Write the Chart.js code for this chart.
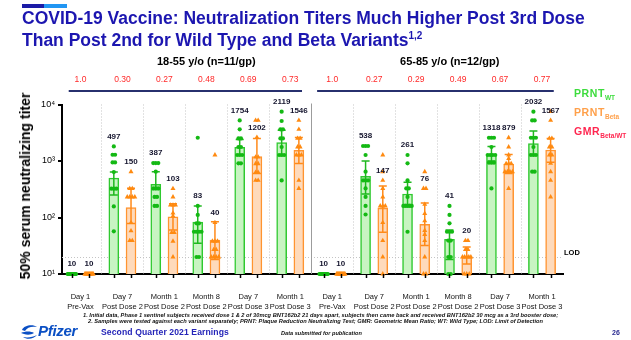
<!DOCTYPE html>
<html>
<head>
<meta charset="utf-8">
<script src="https://cdn.jsdelivr.net/npm/chart.js@4/dist/chart.umd.min.js"></script>
<style>
  html, body { margin: 0; padding: 0; background: #fff; }
  #wrap { position: relative; width: 631px; height: 340px; overflow: hidden;
          font-family: "Liberation Sans", Arial, sans-serif; }
  #c { position: absolute; left: 0; top: 0; }
  .t { position: absolute; white-space: nowrap; }
  .strip1 { position: absolute; left: 22px; top: 4px; width: 22px; height: 4px; background: #1b1ba6; }
  .strip2 { position: absolute; left: 44px; top: 4px; width: 23px; height: 4px; background: #2196f3; }
  .title { left: 22px; top: 7px; font-weight: bold; font-size: 17.5px; line-height: 22px; color: #1c16b0; }
  .title .sup { font-size: 10px; position: relative; top: -7px; }
  .ytitle { left: 25px; top: 186px; font-weight: bold; font-size: 14px; color: #000;
            transform: translate(-50%, -50%) rotate(-90deg); }
  .leg { left: 574px; font-weight: bold; font-size: 10.5px; line-height: 12px; letter-spacing: 0.6px; }
  .leg sub { font-size: 6.5px; letter-spacing: 0; vertical-align: -3px; }
  .foot { font-style: italic; font-weight: bold; font-size: 5.7px; color: #111; line-height: 7px; }
  .earn { left: 101px; top: 327px; font-weight: bold; font-size: 8.6px; color: #2424b8; letter-spacing: 0.1px; }
  .pub { left: 281px; top: 330px; font-style: italic; font-size: 5.6px; color: #111; font-weight: bold; }
  .page { left: 612px; top: 329px; font-size: 7px; color: #2a2a90; font-weight: bold; }
  .pfz { left: 38px; top: 322px; font-style: italic; font-weight: bold; font-size: 15px; color: #0a4fc4; letter-spacing: -0.3px; }
</style>
</head>
<body>
<div id="wrap">
  <canvas id="c" width="631" height="340"></canvas>
  <div class="strip1"></div><div class="strip2"></div>
  <div class="t title">COVID-19 Vaccine: Neutralization Titers Much Higher Post 3rd Dose<br>Than Post 2nd for Wild Type and Beta Variants<span class="sup">1,2</span></div>
  <div class="t ytitle">50% serum neutralizing titer</div>
  <div class="t leg" style="top:87px;color:#3ddc3d">PRNT<sub>WT</sub></div>
  <div class="t leg" style="top:106px;color:#ffa04a">PRNT<sub>Beta</sub></div>
  <div class="t leg" style="top:125px;color:#ff2750">GMR<sub>Beta/WT</sub></div>
  <div class="t foot" style="left:83px;top:312px">1. Initial data, Phase 1 sentinel subjects received dose 1 &amp; 2 of 30mcg BNT162b2 21 days apart, subjects then came back and received BNT162b2 30 mcg as a 3rd booster dose;</div>
  <div class="t foot" style="left:88px;top:318px">2. Samples were tested against each variant separately; PRNT: Plaque Reduction Neutralizing Test; GMR: Geometric Mean Ratio; WT: Wild Type; LOD: Limit of Detection</div>
  <svg style="position:absolute;left:19px;top:324px" width="20" height="16" viewBox="0 0 20 16">
    <path d="M3 6 C5 1, 14 0, 18 3 C13 2, 8 3, 6 7 Z" fill="#0a4fc4"/>
    <path d="M2 9 C6 7, 12 7, 15 9 C12 11, 8 11, 5 10 Z" fill="#0a4fc4"/>
    <path d="M4 13 C8 16, 15 15, 18 11 C14 13, 9 14, 4 13 Z" fill="#0a4fc4"/>
  </svg>
  <div class="t pfz">Pfizer</div>
  <div class="t earn">Second Quarter 2021 Earnings</div>
  <div class="t pub">Data submitted for publication</div>
  <div class="t page">26</div>
</div>
<script>
// Time points for both age cohorts (first six: 18-55 y/o, last six: 65-85 y/o)
const xLabels = [
  ['Day 1', 'Pre-Vax'], ['Day 7', 'Post Dose 2'], ['Month 1', 'Post Dose 2'],
  ['Month 8', 'Post Dose 2'], ['Day 7', 'Post Dose 3'], ['Month 1', 'Post Dose 3'],
  ['Day 1', 'Pre-Vax'], ['Day 7', 'Post Dose 2'], ['Month 1', 'Post Dose 2'],
  ['Month 8', 'Post Dose 2'], ['Day 7', 'Post Dose 3'], ['Month 1', 'Post Dose 3']
];
const panelTitles = ['18-55 y/o (n=11/gp)', '65-85 y/o (n=12/gp)'];

// Geometric mean titers (PRNT50)
const gmtWT   = [10, 497, 387, 83, 1754, 2119, 10, 538, 261, 41, 1318, 2032];
const gmtBeta = [10, 150, 103, 40, 1202, 1546, 10, 147, 76, 20, 879, 1567];

// Beta / wild-type geometric mean ratio
const gmrBetaWT = ['1.0', '0.30', '0.27', '0.48', '0.69', '0.73', '1.0', '0.27', '0.29', '0.49', '0.67', '0.77'];

// 95% confidence intervals [lower, upper]
const ciWT = [null, [250, 640], [314, 646], [35, 160], [1280, 2410], [1250, 3500],
              null, [260, 1000], [170, 420], [18, 60], [1000, 1800], [1300, 3400]];
const ciBeta = [null, [78, 330], [60, 175], [18, 84], [600, 2500], [900, 2600],
                null, [55, 360], [32, 180], [15, 30], [600, 1300], [950, 2500]];

// Individual subject titers, wild type
const ptsWT = [
  [10, 10, 10, 10, 10, 10, 10, 10, 10, 10, 10],
  [1811, 1290, 1290, 944, 944, 638, 324, 324, 324, 157, 57],
  [920, 920, 920, 646, 327, 327, 327, 231, 231, 160, 160],
  [2580, 160, 111, 79, 79, 56, 56, 56, 56, 20, 20],
  [5236, 3630, 2512, 2512, 1770, 1770, 1277, 1277, 1277, 908, 908],
  [7465, 5100, 3630, 3630, 2512, 2512, 1770, 1277, 1277, 1277, 454],
  [10, 10, 10, 10, 10, 10, 10, 10, 10, 10, 10, 10],
  [1841, 1841, 1841, 1277, 646, 454, 454, 454, 327, 231, 160, 113],
  [1277, 908, 454, 327, 327, 231, 160, 160, 160, 160, 160, 56],
  [160, 111, 79, 56, 56, 56, 39, 39, 20, 20, 10, 10],
  [2580, 2580, 2580, 1770, 1277, 1277, 1277, 1277, 933, 933, 933, 327],
  [7465, 5236, 5236, 2580, 2580, 2580, 1770, 1277, 1277, 1277, 646, 646]
];

// Individual subject titers, Beta variant
const ptsBeta = [
  [10, 10, 10, 10, 10, 10, 10, 10, 10, 10, 10],
  [646, 324, 324, 231, 231, 231, 231, 81, 58, 39, 39],
  [324, 231, 166, 166, 166, 120, 106, 54, 54, 38, 20],
  [1276, 81, 38, 38, 38, 27, 27, 20, 20, 20, 20],
  [5236, 5236, 2618, 1175, 1175, 896, 896, 628, 628, 454, 454],
  [5236, 3630, 2512, 2512, 1770, 1770, 1277, 1277, 1277, 454, 327],
  [10, 10, 10, 10, 10, 10, 10, 10, 10, 10, 10, 10],
  [1277, 646, 454, 327, 231, 160, 160, 160, 81, 39, 20, 10],
  [646, 327, 327, 171, 117, 87, 59, 50, 39, 20, 10, 10],
  [39, 39, 27, 27, 20, 20, 20, 20, 20, 10, 10, 10],
  [2580, 1770, 1277, 1100, 900, 900, 900, 646, 646, 646, 646, 327],
  [7465, 5236, 2512, 2512, 1770, 1770, 1277, 1277, 908, 646, 454, 231]
];

const yTicks = [10, 100, 1000, 10000];
const yTickText = ['10\u00B9', '10\u00B2', '10\u00B3', '10\u2074'];
const LOD = 20;

const FONT = '"Liberation Sans", Arial, sans-serif';
const PER_PANEL = xLabels.length / 2;
const OFF = 0.205;               // bar offset from the time-point centre, in category units
const COL = {
  wtLine: '#2fc92f', wtFill: '#c8f4c2', wtPt: '#14b914', wtErr: '#1fb81f',
  btLine: '#ff9430', btFill: '#fedabb', btPt: '#ff8a10', btErr: '#ff8a1a'
};

function barData(vals, sign) {
  return vals.map((v, i) => ({ x: i + sign * OFF, y: v }));
}
// identical titers are spread sideways so every subject stays visible
function pointData(groups, sign) {
  const out = [];
  groups.forEach((g, i) => {
    const counts = {}, seen = {};
    g.forEach(v => { counts[v] = (counts[v] || 0) + 1; });
    g.forEach(v => {
      const n = counts[v];
      const k = seen[v] = (seen[v] || 0) + 1;
      const step = n > 1 ? Math.min(0.06, 0.2 / (n - 1)) : 0;
      out.push({ x: i + sign * OFF + (k - 1 - (n - 1) / 2) * step, y: v });
    });
  });
  return out;
}
// value labels sit just above the highest subject that is not a far outlier
function labelAnchor(pts, gmt, spread) {
  return Math.max(...pts.filter(v => v <= gmt * spread), gmt);
}

const deco = {
  id: 'deco',
  beforeDatasetsDraw(chart) {
    const { ctx, chartArea: a, scales: { x, y } } = chart;
    const seg = (x1, y1, x2, y2) => { ctx.beginPath(); ctx.moveTo(x1, y1); ctx.lineTo(x2, y2); ctx.stroke(); };
    ctx.save();
    ctx.strokeStyle = '#c4c4c4'; ctx.lineWidth = 1; ctx.setLineDash([1, 2]);
    for (let i = 0; i < xLabels.length - 1; i++) {
      if (i === PER_PANEL - 1) continue;
      const px = Math.round(x.getPixelForValue(i + 0.5)) + 0.5;
      seg(px, a.top, px, a.bottom);
    }
    const ly = Math.round(y.getPixelForValue(LOD)) + 0.5;
    seg(a.left, ly, a.right, ly);
    ctx.setLineDash([]);
    ctx.strokeStyle = '#9c9c9c';
    const sx = Math.round(x.getPixelForValue(PER_PANEL - 0.5)) + 0.5;
    seg(sx, a.top - 1, sx, a.bottom);
    ctx.restore();
  },
  afterDatasetDraw(chart, args) {
    if (args.index > 1) return;
    const { ctx, scales: { x, y } } = chart;
    const ci = args.index === 0 ? ciWT : ciBeta;
    const sign = args.index === 0 ? -1 : 1;
    ctx.save();
    ctx.strokeStyle = args.index === 0 ? COL.wtErr : COL.btErr;
    ctx.lineWidth = 1.5;
    ci.forEach((r, i) => {
      if (!r) return;
      const px = x.getPixelForValue(i + sign * OFF);
      const lo = y.getPixelForValue(r[0]), hi = y.getPixelForValue(r[1]);
      ctx.beginPath();
      ctx.moveTo(px, lo); ctx.lineTo(px, hi);
      ctx.moveTo(px - 4, lo); ctx.lineTo(px + 4, lo);
      ctx.moveTo(px - 4, hi); ctx.lineTo(px + 4, hi);
      ctx.stroke();
    });
    ctx.restore();
  },
  afterDatasetsDraw(chart) {
    const { ctx, chartArea: a, scales: { x, y } } = chart;
    ctx.save();
    // tick marks under each bar
    ctx.strokeStyle = '#000'; ctx.lineWidth = 1.5;
    for (let i = 0; i < xLabels.length; i++) {
      [-1, 1].forEach(s => {
        const px = Math.round(x.getPixelForValue(i + s * OFF)) + 0.5;
        ctx.beginPath(); ctx.moveTo(px, a.bottom); ctx.lineTo(px, a.bottom + 4); ctx.stroke();
      });
    }
    // geometric mean values above each group
    ctx.font = 'bold 8px ' + FONT; ctx.fillStyle = '#15152e';
    ctx.textAlign = 'center'; ctx.textBaseline = 'middle';
    for (let i = 0; i < xLabels.length; i++) {
      const tw = labelAnchor(ptsWT[i], gmtWT[i], 5);
      const tb = labelAnchor(ptsBeta[i], gmtBeta[i], 4.35);
      ctx.fillText(String(gmtWT[i]), x.getPixelForValue(i - OFF), y.getPixelForValue(tw) - 10);
      ctx.fillText(String(gmtBeta[i]), x.getPixelForValue(i + OFF), y.getPixelForValue(tb) - 10);
    }
    // limit of detection
    ctx.textAlign = 'left'; ctx.font = 'bold 7.5px ' + FONT; ctx.fillStyle = '#000';
    ctx.fillText('LOD', a.right + 1, y.getPixelForValue(LOD) - 4);
    // cohort headers: title, GMR row, rule
    ctx.textAlign = 'center';
    ctx.font = 'bold 11px ' + FONT; ctx.fillStyle = '#000';
    ctx.fillText(panelTitles[0], x.getPixelForValue(3.0), 62);
    ctx.fillText(panelTitles[1], x.getPixelForValue(8.8), 62);
    ctx.font = '8.5px ' + FONT; ctx.fillStyle = '#ff2a2a';
    gmrBetaWT.forEach((g, i) => ctx.fillText(g, x.getPixelForValue(i), 80));
    ctx.strokeStyle = '#27306e'; ctx.lineWidth = 2;
    [[-0.28, PER_PANEL - 0.72], [PER_PANEL - 0.36, 2 * PER_PANEL - 0.72]].forEach(([s, e]) => {
      ctx.beginPath(); ctx.moveTo(x.getPixelForValue(s), 91); ctx.lineTo(x.getPixelForValue(e), 91); ctx.stroke();
    });
    ctx.restore();
  }
};

new Chart(document.getElementById('c'), {
  type: 'bar',
  data: {
    datasets: [
      { label: 'PRNT WT', data: barData(gmtWT, -1), backgroundColor: COL.wtFill, borderColor: COL.wtLine,
        borderWidth: 1.5, barThickness: 10, grouped: false, order: 3 },
      { label: 'PRNT Beta', data: barData(gmtBeta, 1), backgroundColor: COL.btFill, borderColor: COL.btLine,
        borderWidth: 1.5, barThickness: 10, grouped: false, order: 3 },
      { type: 'scatter', label: 'WT subjects', data: pointData(ptsWT, -1), pointStyle: 'circle', pointRadius: 2.1,
        backgroundColor: COL.wtPt, pointBackgroundColor: COL.wtPt, pointBorderWidth: 0, showLine: false, clip: false, order: 1 },
      { type: 'scatter', label: 'Beta subjects', data: pointData(ptsBeta, 1), pointStyle: 'triangle', pointRadius: 2.9,
        backgroundColor: COL.btPt, pointBackgroundColor: COL.btPt, pointBorderWidth: 0, showLine: false, clip: false, order: 1 }
    ]
  },
  options: {
    responsive: false, animation: false, devicePixelRatio: 1, events: [],
    layout: { padding: { top: 104.5, right: 68, bottom: 0, left: 0 } },
    plugins: { legend: { display: false }, tooltip: { enabled: false } },
    scales: {
      x: {
        type: 'linear', min: -0.44, max: 11.5, offset: false,
        afterBuildTicks: s => { s.ticks = xLabels.map((_, i) => ({ value: i })); },
        afterFit: s => { s.height = 66; },
        ticks: { callback: v => xLabels[v], autoSkip: false, maxRotation: 0, minRotation: 0,
                 padding: 17, color: '#111', font: { family: FONT, size: 7.5, lineHeight: 1.45 } },
        grid: { display: false, drawTicks: false, offset: false },
        border: { display: true, color: '#000', width: 2 }
      },
      y: {
        type: 'logarithmic', min: 10, max: 10000,
        afterBuildTicks: s => { s.ticks = yTicks.map(v => ({ value: v, major: true })); },
        afterFit: s => { s.width = 62; },
        ticks: { callback: v => yTickText[yTicks.indexOf(v)] ?? '', color: '#000', padding: 3,
                 font: { family: FONT, size: 9 } },
        grid: { drawOnChartArea: false, drawTicks: true, tickLength: 4, color: '#000', lineWidth: 2 },
        border: { display: true, color: '#000', width: 2 }
      }
    }
  },
  plugins: [deco]
});
</script>
</body>
</html>
